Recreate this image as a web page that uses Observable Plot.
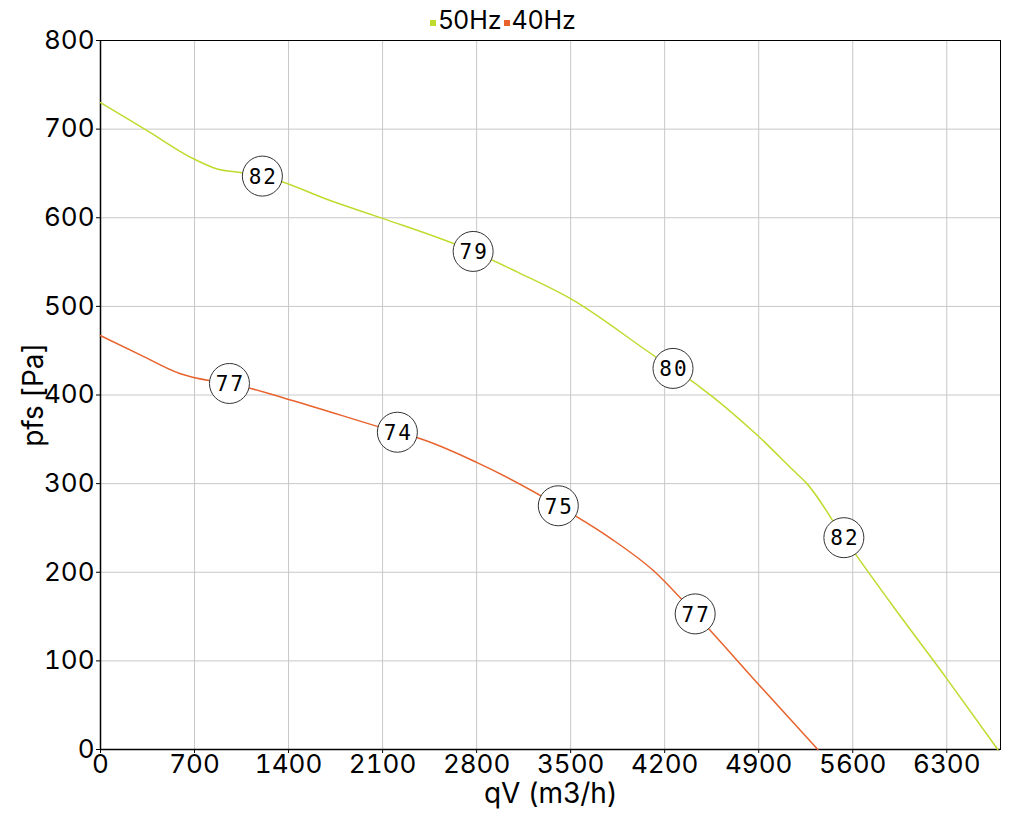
<!DOCTYPE html>
<html>
<head>
<meta charset="utf-8">
<script src="https://cdn.jsdelivr.net/npm/d3@7"></script>
<script src="https://cdn.jsdelivr.net/npm/@observablehq/plot@0.6"></script>
<style>
  html, body { margin: 0; padding: 0; background: #fff; }
  #wrap { position: relative; width: 1020px; height: 820px; }
  #legend { position: absolute; top: 5px; left: 0; width: 1006px; text-align: center;
    font-family: Inter, "Noto Sans", sans-serif; font-size: 25px; color: #000; }
  #legend span.sw { display: inline-block; width: 6px; height: 6px; margin-right: 2px; vertical-align: 3px; }
  #legend span.item { margin: 0 1px; }
  .circlabel text { letter-spacing: 2px; }
</style>
</head>
<body>
<div id="wrap">
  <div id="legend"></div>
  <div id="chart"></div>
</div>
<script>
const seriesNames = ["50Hz", "40Hz"];
const seriesColors = ["#bfdb2e", "#e8622c"];

const q50 = [0, 350, 700, 870, 1041, 1205, 1735, 2105, 2774, 3100, 3496, 4143, 4262, 4463, 4894, 5157, 5259, 5534, 5903, 6300, 6680];
const p50 = [730, 698, 666, 655, 651, 647, 618, 599, 562, 539, 509, 442, 430, 409, 354, 315, 300, 239, 161, 80, 0];

const q40 = [0, 300, 595, 818, 960, 1400, 2210, 2355, 2800, 3408, 3800, 4115, 4427, 4896, 5340];
const p40 = [467, 445, 424, 416, 413, 395, 358, 352, 324, 275, 238, 202, 153, 74, 0];

const label50Q = [1205, 2774, 4262, 5534];
const label50P = [647, 562, 430, 239];
const label50V = ["82", "79", "80", "82"];

const label40Q = [960, 2210, 3408, 4427];
const label40P = [413, 358, 275, 153];
const label40V = ["77", "74", "75", "77"];

const xTicks = [0, 700, 1400, 2100, 2800, 3500, 4200, 4900, 5600, 6300];
const yTicks = [0, 100, 200, 300, 400, 500, 600, 700, 800];

const xLabel = "qV (m3/h)";
const yLabel = "pfs [Pa]";

const lineData = [
  ...q50.map((q, i) => ({q, p: p50[i], s: seriesNames[0]})),
  ...q40.map((q, i) => ({q, p: p40[i], s: seriesNames[1]}))
];
const labelData = [
  ...label50Q.map((q, i) => ({q, p: label50P[i], v: label50V[i]})),
  ...label40Q.map((q, i) => ({q, p: label40P[i], v: label40V[i]}))
];

const font = "Inter, 'Noto Sans', sans-serif";
const fmt = d => String(d);

const chart = Plot.plot({
  width: 1020,
  height: 820,
  marginLeft: 100,
  marginRight: 20,
  marginTop: 40,
  marginBottom: 71,
  style: { fontFamily: font, fontSize: "26px", background: "#fff", color: "#000" },
  x: { domain: [0, 6700], ticks: xTicks, label: null },
  y: { domain: [0, 800], ticks: yTicks, label: null },
  color: { domain: seriesNames, range: seriesColors },
  marks: [
    Plot.gridX(xTicks, { stroke: "#c8c8c8", strokeOpacity: 1, strokeWidth: 1 }),
    Plot.gridY(yTicks, { stroke: "#c8c8c8", strokeOpacity: 1, strokeWidth: 1 }),
    Plot.frame({ stroke: "#000", strokeWidth: 1 }),
    Plot.ruleX([0], { stroke: "#000", strokeWidth: 1.5 }),
    Plot.ruleY([0], { stroke: "#000", strokeWidth: 1.5 }),
    Plot.axisX(xTicks, { tickSize: 4, tickPadding: 1, fontSize: 26, fontFamily: font, tickFormat: fmt, label: null }),
    Plot.axisY(yTicks, { tickSize: 4, tickPadding: 2, fontSize: 26, fontFamily: font, tickFormat: fmt, label: null }),
    Plot.line(lineData, { x: "q", y: "p", z: "s", stroke: "s", strokeWidth: 1.5, curve: "monotone-x" }),
    Plot.dot(labelData, { x: "q", y: "p", r: 20, fill: "#fff", stroke: "#333", strokeWidth: 1 }),
    Plot.text(labelData, { x: "q", y: "p", text: "v", className: "circlabel", fontFamily: "'DejaVu Sans Mono', monospace", fontSize: 21, fill: "#000", dx: 1, dy: 1 }),
    Plot.text([xLabel], { frameAnchor: "bottom", dy: 45, lineAnchor: "middle", textAnchor: "middle", fontSize: 28, fontFamily: font, fill: "#000" }),
    Plot.text([yLabel], { frameAnchor: "left", dx: -66, rotate: -90, textAnchor: "middle", lineAnchor: "middle", fontSize: 28, fontFamily: font, fill: "#000" })
  ]
});
document.getElementById("chart").appendChild(chart);

const legend = document.getElementById("legend");
legend.innerHTML = seriesNames.map((n, i) =>
  `<span class="item"><span class="sw" style="background:${seriesColors[i]}"></span>${n}</span>`).join("");
</script>
</body>
</html>
